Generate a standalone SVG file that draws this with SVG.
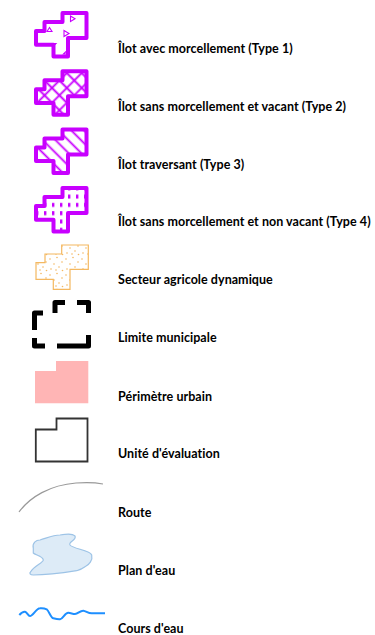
<svg xmlns="http://www.w3.org/2000/svg" width="375" height="635" viewBox="0 0 375 635">
<style>
.lbl{font-family:"Lato","Liberation Sans",sans-serif;font-weight:bold;font-size:12.5px;letter-spacing:0.05px;fill:#000}
.ilot{stroke:#C800FF;stroke-width:4;stroke-linejoin:round}
.tri{fill:none;stroke:#C800FF;stroke-width:1.1}
</style>
<defs>
<path id="ilotShape" d="M62.5,13 H86.5 V38 H68 V56.5 H53.5 V44.7 H36 V31 H44.5 V22 H62.5 Z"/>
<pattern id="cross" patternUnits="userSpaceOnUse" width="10.5" height="10.5" patternTransform="rotate(45)">
<rect width="10.5" height="10.5" fill="#fff"/>
<path d="M0,5.25 H10.5 M5.25,0 V10.5" stroke="#C800FF" stroke-width="1.8"/>
</pattern>
<pattern id="hatch" patternUnits="userSpaceOnUse" width="9" height="9" patternTransform="rotate(45)">
<rect width="9" height="9" fill="#fff"/>
<path d="M0,4.5 H9" stroke="#C800FF" stroke-width="1.8"/>
</pattern>
<pattern id="dots" patternUnits="userSpaceOnUse" width="8" height="8.3" x="1" y="1">
<rect width="8" height="8.3" fill="#fff"/>
<rect x="3" y="2" width="2.4" height="4" fill="#C800FF"/>
</pattern>
<pattern id="agri" patternUnits="userSpaceOnUse" width="16" height="16">
<rect width="16" height="16" fill="#fff"/>
<g fill="#F4B860">
<circle cx="2" cy="3" r="0.8"/><circle cx="9" cy="1.5" r="0.8"/><circle cx="14" cy="6" r="0.8"/>
<circle cx="6" cy="8" r="0.8"/><circle cx="11" cy="11" r="0.8"/><circle cx="3" cy="13" r="0.8"/>
<circle cx="14.5" cy="14.5" r="0.8"/><circle cx="8" cy="14" r="0.8"/>
</g>
</pattern>
</defs>

<g id="type1">
<use href="#ilotShape" class="ilot" fill="#fff"/>
<path class="tri" d="M70.5,16 V21.5 L75,18.8 Z M47,31.5 L49.5,27.5 L52,31.5 Z M64,30.5 V36.5 L69,33.5 Z M50,43.5 H56 L53,46.5 Z M63.5,54 L66,51.5 L68,54 Z"/>
<text class="lbl" x="118" y="52.5">Îlot avec morcellement (Type 1)</text>
</g>
<g id="type2">
<use href="#ilotShape" class="ilot" fill="url(#cross)" transform="translate(0,58.2)"/>
<text class="lbl" x="118" y="110.5">Îlot sans morcellement et vacant (Type 2)</text>
</g>
<g id="type3">
<use href="#ilotShape" class="ilot" fill="url(#hatch)" transform="translate(0,116.4)"/>
<text class="lbl" x="118" y="168.5">Îlot traversant (Type 3)</text>
</g>
<g id="type4">
<use href="#ilotShape" class="ilot" fill="url(#dots)" transform="translate(0,175)"/>
<text class="lbl" x="118" y="226">Îlot sans morcellement et non vacant (Type 4)</text>
</g>
<g id="agricole">
<path d="M61.7,245 H88.3 V269.3 H70 V289.3 H53.3 V279.3 H36 V262.7 H45 V254 H61.7 Z" fill="url(#agri)" stroke="#F4B860" stroke-width="1.2"/>
<text class="lbl" x="118" y="284">Secteur agricole dynamique</text>
</g>
<g id="limite">
<path d="M71,302.5 H88.5 V346 H34.5 V313 H55 V302.5 Z" fill="none" stroke="#000" stroke-width="5" stroke-linejoin="round" stroke-dasharray="22 22 42.5 12 18.5 8 25.5 12 20.5 12" stroke-dashoffset="189"/>
<text class="lbl" x="118" y="342">Limite municipale</text>
</g>
<g id="perimetre">
<path d="M56,361 H88.3 V403.3 H35 V371 H56 Z" fill="#FFB5B5"/>
<text class="lbl" x="118" y="400.5">Périmètre urbain</text>
</g>
<g id="unite">
<path d="M56.5,418.5 H87.5 V461.5 H35.8 V429.5 H56.5 Z" fill="none" stroke="#333" stroke-width="1.8"/>
<text class="lbl" x="118" y="457.5">Unité d'évaluation</text>
</g>
<g id="route">
<path d="M19,512 C30,497 50,485 76,483 C88,482 98,483 103,484" fill="none" stroke="#999" stroke-width="1.2"/>
<text class="lbl" x="118" y="516.5">Route</text>
</g>
<g id="plan">
<path d="M33.3,548.3 C32,543 36,540 40,540 C47,538 53,535 60,535 C66,534 72,533 75,536 C77,540 68,542 70,545 C73,549 90,550 91.7,555 C93,560 89,565 85,566.7 C82,569 79,570 76.7,570.7 C62,573 45,575 33.3,575 C30,575 29,573 30.7,571.7 C34,566 43,563 43.3,560 C43,556 35,555 33.3,553 Z" fill="#DDEBF7" stroke="#9DC3E6" stroke-width="1.2"/>
<text class="lbl" x="118" y="574.5">Plan d'eau</text>
</g>
<g id="cours">
<path d="M19.3,615 C21,613 23,611.5 25,611.7 C27,612 28,616 30,616 C33,616 36,608.5 40,608.3 C43,608 45,608.5 46.7,609.3 C49,611 51,618 53.3,618.3 C56,619 58,619.5 60,619.3 C63,619 65,612.5 68.3,612.7 C71,613 73,614 75,614 C78,614 80,610.5 83.3,610.7 C86,611 88,613.3 91.7,613.3 L105,613.3" fill="none" stroke="#1E8FFF" stroke-width="2"/>
<text class="lbl" x="118" y="632.5">Cours d'eau</text>
</g>
</svg>
